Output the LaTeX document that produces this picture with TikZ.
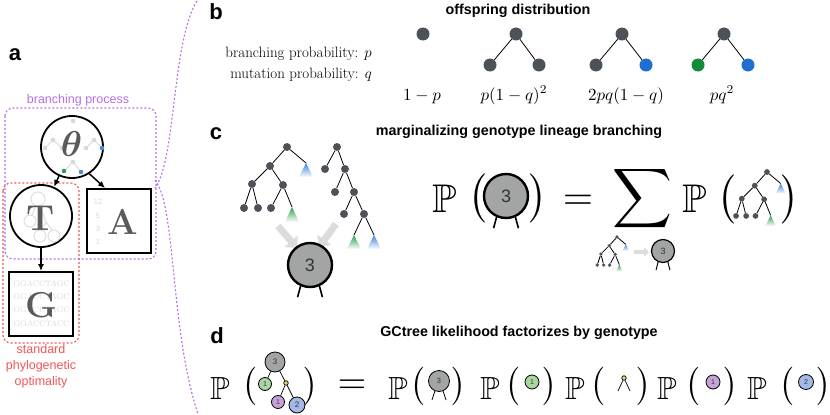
\RequirePackage{fix-cm}
\documentclass[tikz,border=0pt]{standalone}
\usepackage{amsmath,amssymb,bm,graphicx}
\usepackage{fontspec}
\newfontfamily\hv{Liberation Sans}
\usetikzlibrary{arrows.meta,calc}
\definecolor{dotgray}{HTML}{4D5259}
\definecolor{tblue}{HTML}{1F6FD0}
\definecolor{tgreen}{HTML}{128A3A}
\definecolor{sblue}{HTML}{3A86DA}
\definecolor{sgreen}{HTML}{2E9E50}
\definecolor{lpurple}{HTML}{B56FE8}
\definecolor{lred}{HTML}{F05555}
\definecolor{cgray}{HTML}{A3A5A5}
\definecolor{cgreen}{HTML}{A8D5A0}
\definecolor{cpurple}{HTML}{C3A3D8}
\definecolor{cblue}{HTML}{A3B9E8}
\definecolor{ltgray}{HTML}{D8D8D8}
\definecolor{letgray}{HTML}{5A5A5A}
\definecolor{arrgray}{HTML}{DCDCDC}
\definecolor{ydot}{HTML}{E6D66E}
\definecolor{dgt}{HTML}{333333}
\newcommand\cbig[1]{\scalebox{4}{$#1$}}
\newcommand\dmid[1]{\scalebox{3.2}{$#1$}}
\tikzset{
  tdot/.style={circle, fill=dotgray, inner sep=0pt, minimum size=8pt},
  bdot/.style={circle, fill=dotgray, inner sep=0pt, minimum size=13pt},
  tedge/.style={line width=0.8pt, black},
  plbl/.style={font={\hv\bfseries\fontsize{22}{22}\selectfont}, inner sep=0pt},
  ttl/.style={font={\hv\bfseries\fontsize{14.3}{14.3}\selectfont}, inner sep=0pt},
  ptxt/.style={font={\hv\fontsize{12.5}{16}\selectfont}, text=lpurple, inner sep=0pt},
  rtxt/.style={font={\hv\fontsize{12.5}{16}\selectfont}, text=lred, inner sep=0pt, align=center},
  pdash/.style={lpurple, line width=1.1pt, dash pattern=on 2pt off 2pt},
  rdash/.style={lred, line width=1.1pt, dash pattern=on 2pt off 2pt},
  bigc/.style={circle, draw, line width=1.8pt, minimum size=62pt, inner sep=0pt},
  sqbox/.style={rectangle, draw, line width=1.8pt, minimum size=64pt, inner sep=0pt},
  letr/.style={text=letgray, font={\fontsize{36}{36}\selectfont}, inner sep=0pt},
  decl/.style={ltgray, line width=0.8pt},
  arr/.style={-{Latex[length=7pt,width=6pt]}, line width=1.5pt},
  garr/.style={arrgray, line width=7pt, -{Triangle[length=9pt,width=17pt]}},
  leg/.style={line width=1.6pt},
  gcirc/.style={circle, draw, fill=cgray, inner sep=0pt, text=dgt},
  mm/.style={inner sep=0pt},
  blab/.style={inner sep=0pt, anchor=base},
  btxt/.style={font={\fontsize{15}{18}\selectfont}, inner sep=0pt, anchor=base east},
  treeA/.pic={
    \node[tdot] (-r) at (0,0) {};
    \node[tdot] (-a) at (-17,19) {};
    \coordinate (-ba) at (19,16);
    \node[tdot] (-b) at (-35,37) {};
    \node[tdot] (-c) at (-4,38) {};
    \node[tdot] (-l1) at (-43,61) {};
    \node[tdot] (-l2) at (-29,61) {};
    \node[tdot] (-l3) at (-16,61) {};
    \coordinate (-ga) at (5,60);
    \shade[top color=sblue, bottom color=white] (-ba) -- ++(-7,14) -- ++(14,0) -- cycle;
    \shade[top color=sgreen, bottom color=white] (-ga) -- ++(-7,15) -- ++(14,0) -- cycle;
    \draw[tedge] (-r) -- (-a);
    \draw[tedge] (-r) -- (-ba);
    \draw[tedge] (-a) -- (-b);
    \draw[tedge] (-a) -- (-c);
    \draw[tedge] (-b) -- (-l1);
    \draw[tedge] (-b) -- (-l2);
    \draw[tedge] (-c) -- (-l3);
    \draw[tedge] (-c) -- (-ga);
  },
  treeB/.pic={
    \node[tdot] (-r) at (0,0) {};
    \node[tdot] (-a) at (-12,22) {};
    \node[tdot] (-b) at (8,22) {};
    \node[tdot] (-c) at (-2,45) {};
    \node[tdot] (-d) at (17,45) {};
    \node[tdot] (-e) at (7,67) {};
    \node[tdot] (-f) at (27,67) {};
    \coordinate (-ga) at (17,88);
    \coordinate (-ba) at (37,88);
    \shade[top color=sgreen, bottom color=white] (-ga) -- ++(-7,14) -- ++(14,0) -- cycle;
    \shade[top color=sblue, bottom color=white] (-ba) -- ++(-7,14) -- ++(14,0) -- cycle;
    \draw[tedge] (-r) -- (-a);
    \draw[tedge] (-r) -- (-b);
    \draw[tedge] (-b) -- (-c);
    \draw[tedge] (-b) -- (-d);
    \draw[tedge] (-d) -- (-e);
    \draw[tedge] (-d) -- (-f);
    \draw[tedge] (-f) -- (-ga);
    \draw[tedge] (-f) -- (-ba);
  }
}
\begin{document}
\begin{tikzpicture}[x=1pt,y=-1pt]
\useasboundingbox (0,0) rectangle (830,415);

% ================= panel a
\node[plbl] (la) at (15,55) {a};
\node[ptxt] (bp) at (78,100) {branching process};
\draw[pdash, rounded corners=8pt] (5,108) rectangle (156,259);
\draw[rdash, rounded corners=8pt] (3,183) rectangle (79,343);
\node[rtxt] (spo) at (41,366) {standard\\phylogenetic\\optimality};

% theta
\node[bigc] (theta) at (72,147) {};
\draw[decl] (45,148) -- (53,140) -- (62,148);
\draw[decl] (86,148) -- (94,140) -- (102,148);
\draw[decl] (64,171) -- (73,162) -- (81,172);
\fill[ltgray] (73,121) circle (2.3) (45,148) circle (2.3) (53,140) circle (2.3) (62,148) circle (2.3)
  (86,148) circle (2.3) (94,140) circle (2.3) (73,162) circle (2.3);
\fill[tblue!80] (102,148) circle (2.3) (81,172) circle (2.3);
\fill[sgreen] (64,171) circle (2.3);
\node[letr] (thl) at (71.5,144) {$\bm\theta$};

% T
\node[bigc] (T) at (41,216) {};
\draw[decl] (38,199) circle (7) (30,221) circle (6) (40,236) circle (6) (54,236) circle (6);
\draw[decl] (36,206) -- (32,215) (40,206) -- (46,222) -- (42,230) (46,222) -- (52,230);
\node[letr] (Tl) at (41,218) {\bfseries T};

% A
\node[sqbox] (A) at (119,221) {};
\node[font={\hv\fontsize{7.5}{7.5}\selectfont}, text=ltgray, inner sep=0pt] (n12) at (98,202) {12};
\node[font={\hv\fontsize{7.5}{7.5}\selectfont}, text=ltgray, inner sep=0pt] (n5) at (98,216) {5};
\node[font={\hv\fontsize{7.5}{7.5}\selectfont}, text=ltgray, inner sep=0pt] (n3) at (98,229) {3};
\node[font={\hv\fontsize{7.5}{7.5}\selectfont}, text=ltgray, inner sep=0pt] (n1) at (98,242) {1};
\node[letr] (Al) at (123,222) {\bfseries A};

% G
\node[sqbox] (G) at (41,304) {};
\node[font={\fontsize{8}{8}\selectfont}, text=ltgray, inner sep=0pt] (s1) at (41.5,284) {GGACCTAGC};
\node[font={\fontsize{8}{8}\selectfont}, text=ltgray, inner sep=0pt] (s2) at (41.5,297) {GGACCTAGC};
\node[font={\fontsize{8}{8}\selectfont}, text=ltgray, inner sep=0pt] (s3) at (41.5,310) {GGACCTAGC};
\node[font={\fontsize{8}{8}\selectfont}, text=ltgray, inner sep=0pt] (s4) at (41.5,324) {GGACCTACC};
\node[letr] (Gl) at (41,305) {\bfseries G};

% arrows
\coordinate (Atop) at ($(A.north west)+(19,0)$);
\draw[arr] (theta) -- (T);
\draw[arr] (theta.-57) -- (Atop);
\draw[arr] (T) -- (G);

% brace
\draw[pdash] (197,1) .. controls (172,40) and (176,160) .. (155,188);
\draw[pdash] (155,180) .. controls (176,205) and (170,330) .. (198,414);

% ================= panel b
\node[plbl] (lb) at (216,12) {b};
\node[ttl] (tb) at (518,11) {offspring distribution};
\node[btxt] (bpr) at (372,57) {branching probability: $p$};
\node[btxt] (mpr) at (372,78) {mutation probability: $q$};

\node[bdot] (b1r) at (423,34) {};
\node[bdot] (b2r) at (516,34) {};
\node[bdot] (b2l) at (490,65) {};
\node[bdot] (b2R) at (539,65) {};
\draw[tedge] (b2r) -- (b2l);
\draw[tedge] (b2r) -- (b2R);
\node[bdot] (b3r) at (622,34) {};
\node[bdot] (b3l) at (596,65) {};
\node[bdot, fill=tblue] (b3R) at (646,65) {};
\draw[tedge] (b3r) -- (b3l);
\draw[tedge] (b3r) -- (b3R);
\node[bdot] (b4r) at (724,34) {};
\node[bdot, fill=tgreen] (b4l) at (698,65) {};
\node[bdot, fill=tblue] (b4R) at (748,65) {};
\draw[tedge] (b4r) -- (b4l);
\draw[tedge] (b4r) -- (b4R);

\node[blab] (m1) at (422,100) {\scalebox{1.7}{$1-p$}};
\node[blab] (m2) at (514,100) {\scalebox{1.7}{$p(1-q)^2$}};
\node[blab] (m3) at (626,100) {\scalebox{1.7}{$2pq(1-q)$}};
\node[blab] (m4) at (722,100) {\scalebox{1.7}{$pq^2$}};

% ================= panel c
\node[plbl] (lc) at (216,134) {c};
\node[ttl] (tc) at (519,132) {marginalizing genotype lineage branching};

\pic (tA) at (287,147) {treeA};
\pic (tB) at (337,147) {treeB};

\coordinate (ga1s) at (278,226);
\coordinate (ga1e) at (297,248);
\coordinate (ga2s) at (336,224);
\coordinate (ga2e) at (319,247);
\draw[garr] (ga1s) -- (ga1e);
\draw[garr] (ga2s) -- (ga2e);

\node[gcirc, minimum size=44pt, line width=2.4pt, font={\hv\fontsize{18}{18}\selectfont}] (c3) at (310,265) {3};
\coordinate (c3a) at ($(c3.-114)+(-3,11)$);
\coordinate (c3b) at ($(c3.-66)+(3,11)$);
\draw[leg] (c3.-114) -- (c3a);
\draw[leg] (c3.-66) -- (c3b);

\node[mm] (cP1) at (445,199) {\cbig{\mathbb{P}}};
\node[mm] (cL1) at (478,198) {\scalebox{4.1}{$\bigl($}};
\node[gcirc, minimum size=44pt, line width=2.4pt, font={\hv\fontsize{18}{18}\selectfont}] (cc3) at (506,196) {3};
\coordinate (cc3a) at ($(cc3.-114)+(-3,11)$);
\coordinate (cc3b) at ($(cc3.-66)+(3,11)$);
\draw[leg] (cc3.-114) -- (cc3a);
\draw[leg] (cc3.-66) -- (cc3b);
\node[mm] (cR1) at (538,198) {\scalebox{4.1}{$\bigr)$}};
\node[mm] (ceq) at (578,202) {\scalebox{3.9}{$=$}};
\node[mm] (csum) at (642,199) {\scalebox{4.15}{$\displaystyle\sum$}};
\node[mm] (cP2) at (695,199) {\cbig{\mathbb{P}}};
\node[mm] (cL2) at (727,199) {\scalebox{4.1}{$\bigl($}};
\pic[scale=0.72, transform shape] (tM) at (767,172) {treeA};
\node[mm] (cR2) at (790,199) {\scalebox{4.1}{$\bigr)$}};

\pic[scale=0.46, transform shape] (tS) at (617,237) {treeA};
\coordinate (sas) at (634,252);
\coordinate (sae) at (649,252);
\draw[arrgray, line width=3.5pt, -{Triangle[length=5pt,width=9pt]}] (sas) -- (sae);
\node[gcirc, minimum size=23pt, line width=1.2pt, font={\hv\fontsize{9}{9}\selectfont}] (s3c) at (663,251) {3};
\coordinate (s3a) at ($(s3c.-114)+(-2,8)$);
\coordinate (s3b) at ($(s3c.-66)+(2,8)$);
\draw[line width=1pt] (s3c.-114) -- (s3a);
\draw[line width=1pt] (s3c.-66) -- (s3b);

% ================= panel d
\node[plbl] (ld) at (217,336) {d};
\node[ttl] (td) at (519,333) {GCtree likelihood factorizes by genotype};

\node[mm] (dP1) at (220,388) {\dmid{\mathbb{P}}};
\node[mm] (dL1) at (250,386) {\dmid{\bigl(}};
\node[gcirc, minimum size=20pt, line width=0.8pt, font={\hv\fontsize{8}{8}\selectfont}] (dt3) at (275,362) {3};
\node[gcirc, fill=cgreen, minimum size=13pt, line width=0.8pt, font={\hv\fontsize{7}{7}\selectfont}] (dt1) at (265,384) {1};
\node[circle, draw, fill=ydot, minimum size=4.5pt, inner sep=0pt, line width=0.7pt] (dty) at (286,383) {};
\node[gcirc, fill=cpurple, minimum size=13pt, line width=0.8pt, font={\hv\fontsize{7}{7}\selectfont}] (dtp) at (278,402) {1};
\node[gcirc, fill=cblue, minimum size=16pt, line width=0.8pt, font={\hv\fontsize{8}{8}\selectfont}] (dtb) at (297,405) {2};
\draw[line width=0.7pt] (dt3) -- (dt1);
\draw[line width=0.7pt] (dt3) -- (dty);
\draw[line width=0.7pt] (dty) -- (dtp);
\draw[line width=0.7pt] (dty) -- (dtb);
\node[mm] (dR1) at (311,386) {\dmid{\bigr)}};
\node[mm] (deq) at (352,387) {\scalebox{3.7}{$=$}};

\node[mm] (dP2) at (398,388) {\dmid{\mathbb{P}}};
\node[mm] (dL2) at (418,386) {\dmid{\bigl(}};
\node[gcirc, minimum size=21pt, line width=0.8pt, font={\hv\fontsize{7.5}{7.5}\selectfont}] (df3) at (439,381) {3};
\coordinate (df3a) at ($(df3.-112)+(-3,9)$);
\coordinate (df3b) at ($(df3.-68)+(3,9)$);
\draw[line width=0.8pt] (df3.-112) -- (df3a);
\draw[line width=0.8pt] (df3.-68) -- (df3b);
\node[mm] (dR2) at (459,386) {\dmid{\bigr)}};

\node[mm] (dP3) at (490,388) {\dmid{\mathbb{P}}};
\node[mm] (dL3) at (513,386) {\dmid{\bigl(}};
\node[gcirc, fill=cgreen, minimum size=14pt, line width=0.8pt, font={\hv\fontsize{7}{7}\selectfont}] (dfg) at (532,382) {1};
\node[mm] (dR3) at (550,386) {\dmid{\bigr)}};

\node[mm] (dP4) at (575,388) {\dmid{\mathbb{P}}};
\node[mm] (dL4) at (598,386) {\dmid{\bigl(}};
\node[circle, draw, fill=ydot, minimum size=4.5pt, inner sep=0pt, line width=0.7pt] (dfy) at (624,378) {};
\coordinate (dfya) at (618,391);
\coordinate (dfyb) at (630,391);
\draw[line width=0.7pt] (dfy) -- (dfya);
\draw[line width=0.7pt] (dfy) -- (dfyb);
\node[mm] (dR4) at (644,386) {\dmid{\bigr)}};

\node[mm] (dP5) at (667,388) {\dmid{\mathbb{P}}};
\node[mm] (dL5) at (693,386) {\dmid{\bigl(}};
\node[gcirc, fill=cpurple, minimum size=14pt, line width=0.8pt, font={\hv\fontsize{7}{7}\selectfont}] (dfp) at (713,382) {1};
\node[mm] (dR5) at (731,386) {\dmid{\bigr)}};

\node[mm] (dP6) at (757,388) {\dmid{\mathbb{P}}};
\node[mm] (dL6) at (787,386) {\dmid{\bigl(}};
\node[gcirc, fill=cblue, minimum size=15pt, line width=0.8pt, font={\hv\fontsize{7}{7}\selectfont}] (dfb) at (806,382) {2};
\node[mm] (dR6) at (824,386) {\dmid{\bigr)}};
\end{tikzpicture}
\end{document}
